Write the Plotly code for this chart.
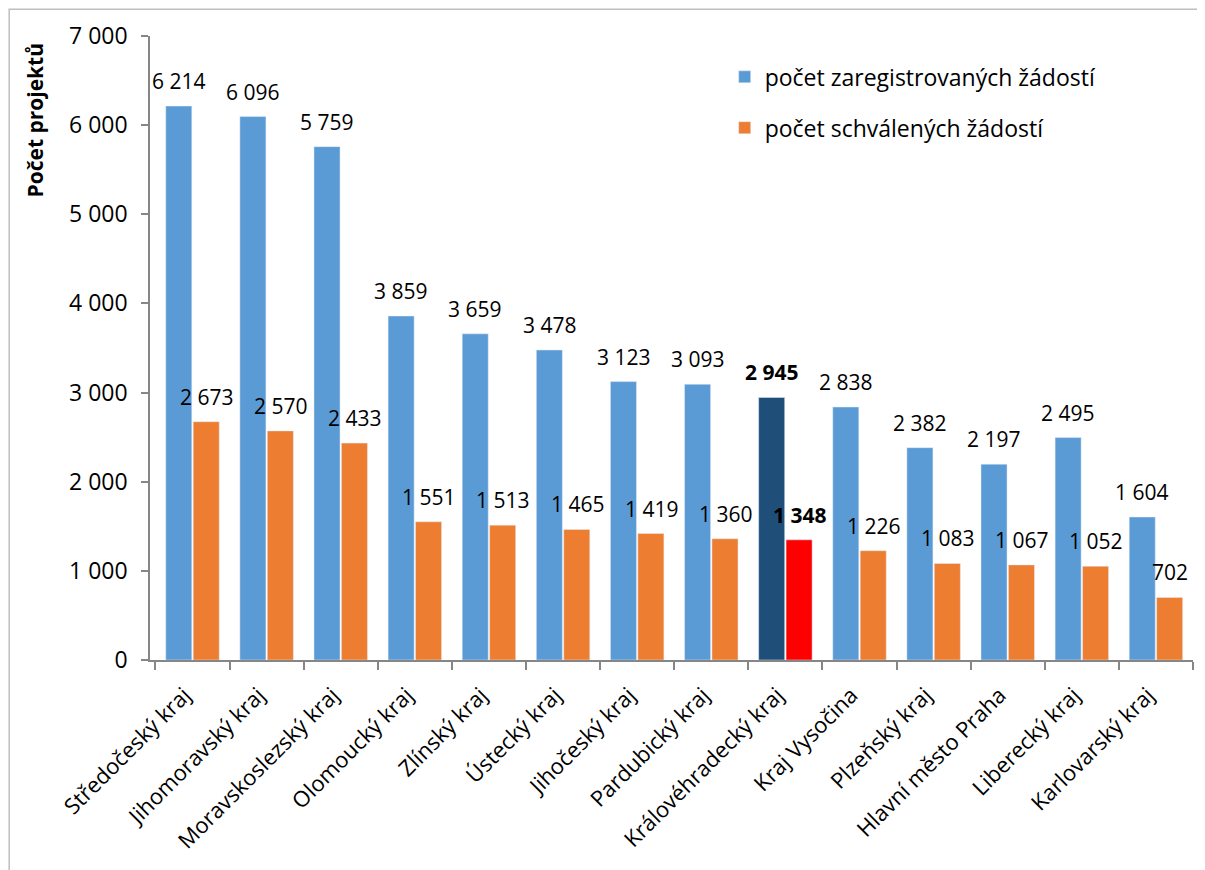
import plotly.graph_objects as go

regions = ["Středočeský kraj", "Jihomoravský kraj", "Moravskoslezský kraj", "Olomoucký kraj",
           "Zlínský kraj", "Ústecký kraj", "Jihočeský kraj", "Pardubický kraj",
           "Královéhradecký kraj", "Kraj Vysočina", "Plzeňský kraj", "Hlavní město Praha",
           "Liberecký kraj", "Karlovarský kraj"]
registered = [6214, 6096, 5759, 3859, 3659, 3478, 3123, 3093, 2945, 2838, 2382, 2197, 2495, 1604]
approved = [2673, 2570, 2433, 1551, 1513, 1465, 1419, 1360, 1348, 1226, 1083, 1067, 1052, 702]
highlight = "Královéhradecký kraj"

name_reg = "počet zaregistrovaných žádostí"
name_app = "počet schválených žádostí"

FONT = "Open Sans"
BLUE, ORANGE = "#5B9BD5", "#ED7D31"
DARK, RED = "#1F4E79", "#FF0000"

def fmt(v):
    return f"{v:,}".replace(",", " ")

blue_cols = [DARK if r == highlight else BLUE for r in regions]
orange_cols = [RED if r == highlight else ORANGE for r in regions]

fig = go.Figure()
fig.add_trace(go.Bar(x=regions, y=registered, name=name_reg, marker=dict(color=blue_cols),
                     legendgroup="a"))
fig.add_trace(go.Bar(x=regions, y=approved, name=name_app, marker=dict(color=orange_cols),
                     legendgroup="b"))

ann = []
for r, a, b in zip(regions, registered, approved):
    bold = r == highlight
    for v, xs in ((a, -14), (b, 14)):
        t = fmt(v)
        if bold:
            t = f"<b>{t}</b>"
        ann.append(dict(x=r, y=v, xref="x", yref="y", text=t, showarrow=False,
                        xshift=xs, yshift=9, yanchor="bottom",
                        font=dict(family=FONT, size=21, color="black")))

ann.append(dict(x=-0.110, y=0.865, xref="paper", yref="paper", text="<b>Počet projektů</b>",
                textangle=-90, showarrow=False, xanchor="center", yanchor="middle",
                font=dict(family=FONT, size=21, color="black")))

fig.update_layout(
    width=1197, height=862,
    margin=dict(l=142, r=12, t=28, b=210),
    paper_bgcolor="white", plot_bgcolor="white",
    separators=", ",
    barmode="group", bargap=0.26, bargroupgap=0.05,
    font=dict(family=FONT, size=20, color="black"),
    showlegend=True,
    legend=dict(x=0.551, y=0.969, xanchor="left", yanchor="top",
                font=dict(family=FONT, size=23, color="black"),
                tracegroupgap=18, itemwidth=30, bgcolor="rgba(0,0,0,0)"),
    annotations=ann,
    shapes=[dict(type="rect", xref="paper", yref="paper", x0=-0.135, x1=1.03,
                 y0=-0.45, y1=1.043, line=dict(color="#BFBFBF", width=1.5),
                 fillcolor="rgba(0,0,0,0)", layer="below")],
)
fig.update_xaxes(showline=True, linecolor="#868686", linewidth=1.5, ticks="outside",
                 tickson="boundaries", ticklen=8, tickcolor="#868686", tickwidth=1.5,
                 tickangle=-45, tickfont=dict(family=FONT, size=22, color="black"),
                 ticklabelstandoff=12, ticklabelshift=-8, showgrid=False)
fig.update_yaxes(range=[0, 7000], dtick=1000, tickformat=",d", showline=True,
                 linecolor="#868686", linewidth=1.5, ticks="outside", ticklen=7,
                 tickcolor="#868686", tickwidth=1.5, showgrid=False, zeroline=False,
                 ticklabelstandoff=9,
                 tickfont=dict(family=FONT, size=23, color="black"))

fig.write_html("out.html")
